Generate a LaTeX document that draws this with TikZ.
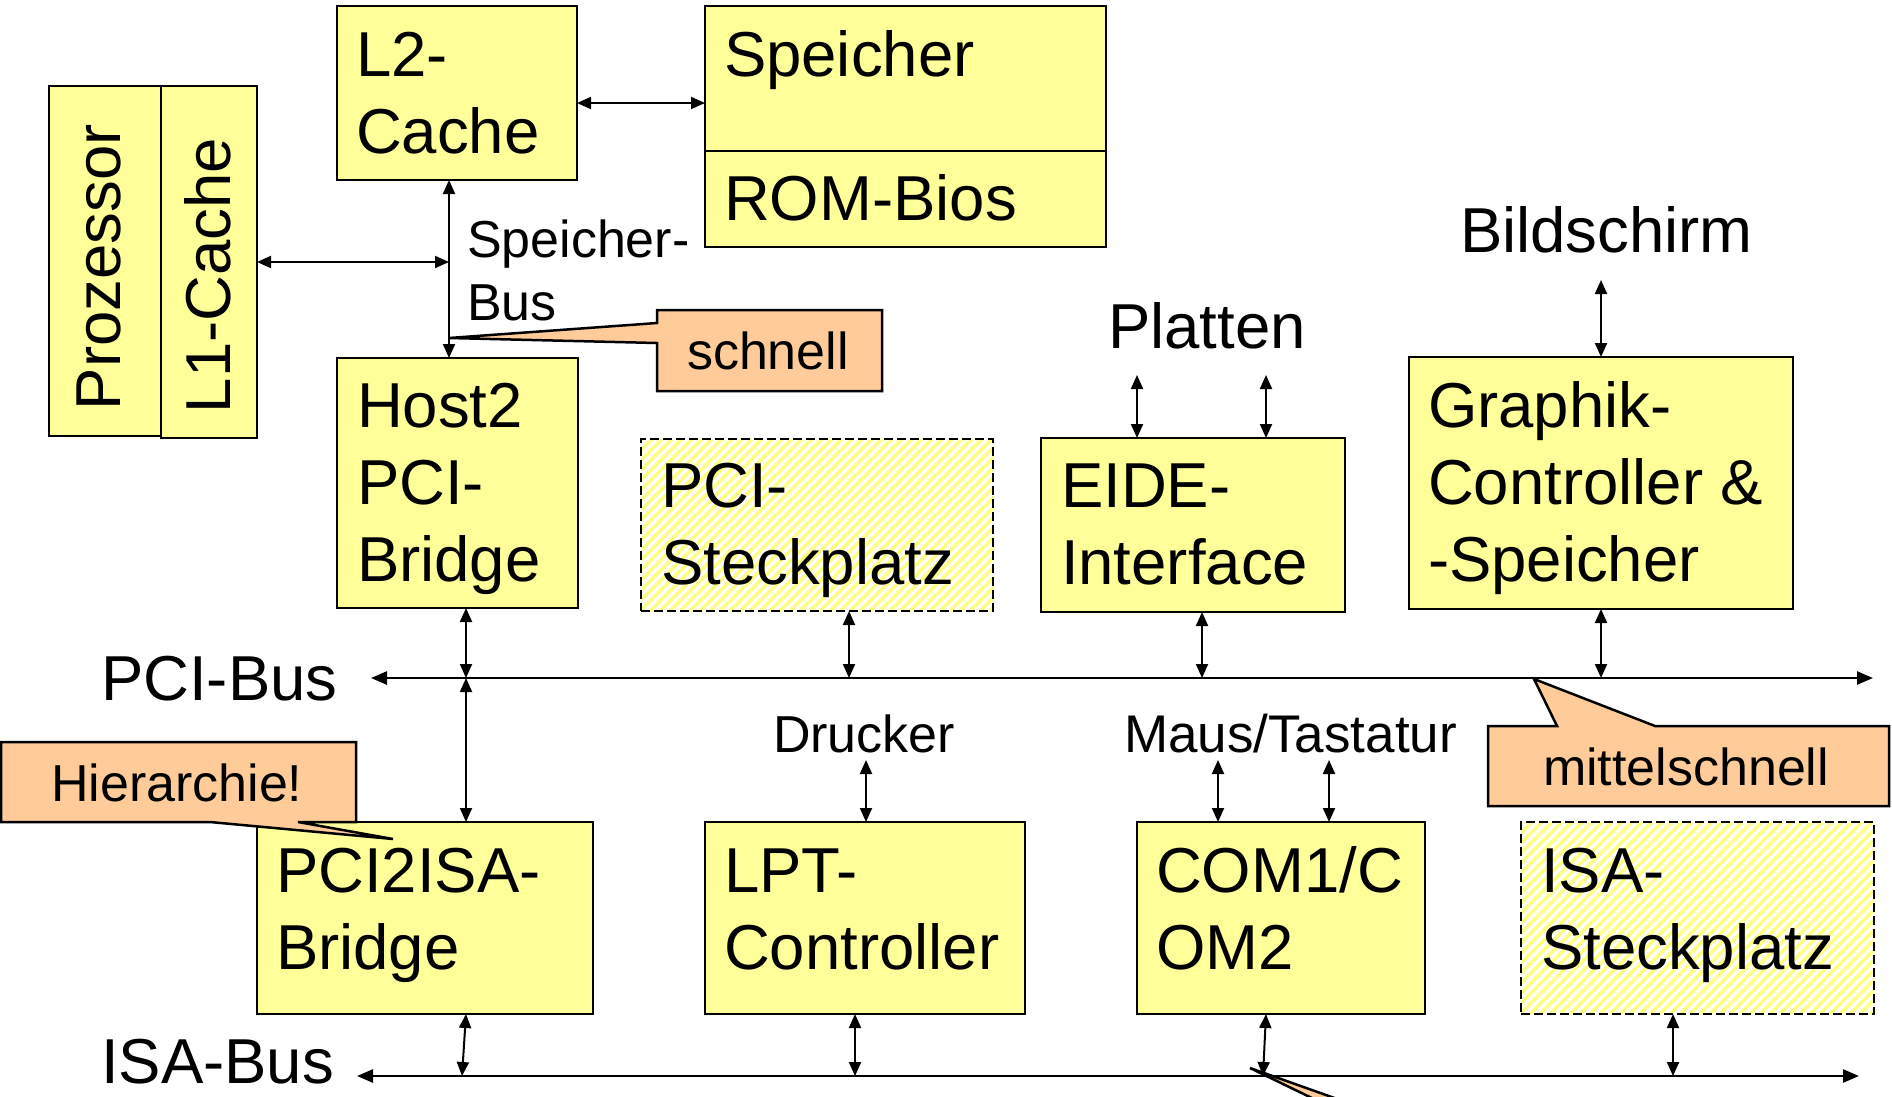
\documentclass[tikz,border=0pt]{standalone}
\usepackage{fontspec}
\setmainfont{Liberation Sans}
\usetikzlibrary{arrows.meta}
\definecolor{boxyellow}{HTML}{FFFF99}
\definecolor{peach}{HTML}{FFCC99}
\definecolor{stripe}{HTML}{FFFF88}
\newcommand\boxlines[1]{\vtop{\halign{##\hfil\cr#1\crcr}}}
\newcommand\bigtxt{\fontsize{63.5}{77}\selectfont}
\newcommand\smalltxt{\fontsize{52}{63}\selectfont}
\tikzset{
  box/.style={draw, line width=2.5pt, fill=boxyellow, inner sep=0pt, outer sep=0pt, anchor=north west},
  slot/.style={draw, line width=2pt, dash pattern=on 9pt off 4pt,
    inner sep=0pt, outer sep=0pt, anchor=north west},
  hatch/.style={draw=stripe, line width=3.6pt},
  txt/.style={anchor=base west, inner sep=0pt, outer sep=0pt, font=\bigtxt},
  stxt/.style={anchor=base west, inner sep=0pt, outer sep=0pt, font=\smalltxt},
  bi/.style={line width=2pt, {Triangle[length=14pt,width=12pt]}-{Triangle[length=14pt,width=12pt]}},
  bus/.style={line width=2.5pt, {Triangle[length=16pt,width=13pt]}-{Triangle[length=16pt,width=13pt]}},
  callout/.style={draw, line width=2.5pt, fill=peach, line join=miter},
}
\begin{document}
\begin{tikzpicture}[x=1pt, y=-1pt]
\useasboundingbox (0,0) rectangle (1892,1096);

% ---------- hatching of the slots ----------
\begin{scope}
  \clip (641,439) rectangle (993,611);
  \foreach \i in {460,470,...,1000} \draw[hatch] (\i,611) -- (\i+172,439);
\end{scope}
\begin{scope}
  \clip (1521,822) rectangle (1874,1014);
  \foreach \i in {1320,1330,...,1880} \draw[hatch] (\i,1014) -- (\i+192,822);
\end{scope}

% ---------- boxes ----------
\node[box, minimum width=112pt, minimum height=350pt] (proz) at (49,86) {};
\node[box, minimum width=96pt, minimum height=352pt] (l1) at (161,86) {};
\node[box, minimum width=240pt, minimum height=174pt] (l2) at (337,6) {};
\node[box, minimum width=401pt, minimum height=145pt] (spU) at (705,6) {};
\node[box, minimum width=401pt, minimum height=96pt] (spL) at (705,151) {};
\node[box, minimum width=241pt, minimum height=250pt] (host) at (337,358) {};
\node[slot, minimum width=352pt, minimum height=172pt] (pcislot) at (641,439) {};
\node[box, minimum width=304pt, minimum height=174pt] (eide) at (1041,438) {};
\node[box, minimum width=384pt, minimum height=252pt] (gfx) at (1409,357) {};
\node[box, minimum width=336pt, minimum height=192pt] (p2i) at (257,822) {};
\node[box, minimum width=320pt, minimum height=192pt] (lpt) at (705,822) {};
\node[box, minimum width=288pt, minimum height=192pt] (com) at (1137,822) {};
\node[slot, minimum width=353pt, minimum height=192pt] (isaslot) at (1521,822) {};

% ---------- texts ----------
\node[txt, rotate=90] (prozT) at (120,410) {Prozessor};
\node[txt, rotate=90] (l1T) at (230,413) {L1-Cache};
\node[txt] (l2T) at (356,76) {\boxlines{L2-\cr Cache}};
\node[txt] (spUT) at (724,76) {Speicher};
\node[txt] (spLT) at (724,220) {ROM-Bios};
\node[stxt] (sbT) at (467,257) {\boxlines{Speicher-\cr Bus}};
\node[txt] (hostT) at (357,427) {\boxlines{Host2\cr PCI-\cr Bridge}};
\node[txt] (pcislotT) at (661,507) {\boxlines{PCI-\cr Steckplatz}};
\node[txt] (eideT) at (1061,507) {\boxlines{EIDE-\cr Interface}};
\node[txt] (gfxT) at (1428,427) {\boxlines{Graphik-\cr Controller \&\cr -Speicher}};
\node[txt] (plattT) at (1108,348) {Platten};
\node[txt] (bildT) at (1460,252) {Bildschirm};
\node[txt] (pcibusT) at (101,700) {PCI-Bus};
\node[stxt] (druckT) at (773,752) {Drucker};
\node[stxt, font=\fontsize{53}{63}\selectfont] (mausT) at (1124,752) {Maus/Tastatur};
\node[txt] (p2iT) at (276,892) {\boxlines{PCI2ISA-\cr Bridge}};
\node[txt] (lptT) at (724,892) {\boxlines{LPT-\cr Controller}};
\node[txt] (comT) at (1156,892) {\boxlines{COM1/C\cr OM2}};
\node[txt] (isaslotT) at (1541,892) {\boxlines{ISA-\cr Steckplatz}};
\node[txt] (isabusT) at (101,1083) {ISA-Bus};

% ---------- memory bus ----------
\coordinate (m1) at ([yshift=-10pt]l2.east);
\draw[bi] (m1) -- (m1 -| spU.west);
\coordinate (sb) at ([xshift=-8pt]l2.south);
\draw[bi] (sb) -- (sb |- host.north);
\draw[bi] (l1.east) -- (l1.east -| sb);

% ---------- PCI bus ----------
\coordinate (pciL) at (371,678);
\coordinate (pciR) at (1873,678);
\draw[bus] (pciL) -- (pciR);
\coordinate (tapHost) at (466,678);
\coordinate (tapSlot) at (849,678);
\coordinate (tapEide) at (1202,678);
\coordinate (tapGfx) at (1601,678);
\draw[bi] (host.south -| tapHost) -- (tapHost);
\draw[bi] (tapHost) -- (p2i.north -| tapHost);
\draw[bi] (pcislot.south -| tapSlot) -- (tapSlot);
\draw[bi] (eide.south -| tapEide) -- (tapEide);
\draw[bi] (gfx.south -| tapGfx) -- (tapGfx);

% ---------- external devices ----------
\coordinate (pl1) at (1137,375);
\coordinate (pl2) at (1266,375);
\draw[bi] (pl1) -- (pl1 |- eide.north);
\draw[bi] (pl2) -- (pl2 |- eide.north);
\coordinate (bs) at (1601,280);
\draw[bi] (bs) -- (bs |- gfx.north);
\coordinate (dr) at (866,760);
\draw[bi] (dr) -- (dr |- lpt.north);
\coordinate (ma1) at (1218,760);
\coordinate (ma2) at (1329,760);
\draw[bi] (ma1) -- (ma1 |- com.north);
\draw[bi] (ma2) -- (ma2 |- com.north);

% ---------- ISA bus ----------
\coordinate (isaL) at (357,1076);
\coordinate (isaR) at (1859,1076);
\draw[bus] (isaL) -- (isaR);
\coordinate (isaP) at (462,1076);
\coordinate (isaLpt) at (855,1076);
\coordinate (isaCom) at (1263,1076);
\coordinate (isaSlot) at (1673,1076);
\draw[bi] ([xshift=209pt]p2i.south west) -- (isaP);
\draw[bi] (lpt.south -| isaLpt) -- (isaLpt);
\draw[bi] ([xshift=129pt]com.south west) -- (isaCom);
\draw[bi] (isaslot.south -| isaSlot) -- (isaSlot);

% ---------- callouts ----------
\draw[callout] (657,310) -- (882,310) -- (882,391) -- (657,391) -- (657,343) -- (449,338) -- (657,323) -- cycle;
\node[stxt] (schnellT) at (687,369) {schnell};
\draw[callout] (1488,726) -- (1557,726) -- (1534,679) -- (1655,726) -- (1889,726) -- (1889,806) -- (1488,806) -- cycle;
\node[stxt] (mittelT) at (1543,785) {mittelschnell};
\draw[callout] (1,742) -- (356,742) -- (356,822) -- (298,822) -- (393,839) -- (210,822) -- (1,822) -- cycle;
\node[stxt] (hierT) at (51,801) {Hierarchie!};
\fill[peach] (1250,1068) -- (1340,1100) -- (1316,1100) -- cycle;
\draw[line width=2.5pt] (1316,1100) -- (1250,1068) -- (1340,1100);
\end{tikzpicture}
\end{document}
